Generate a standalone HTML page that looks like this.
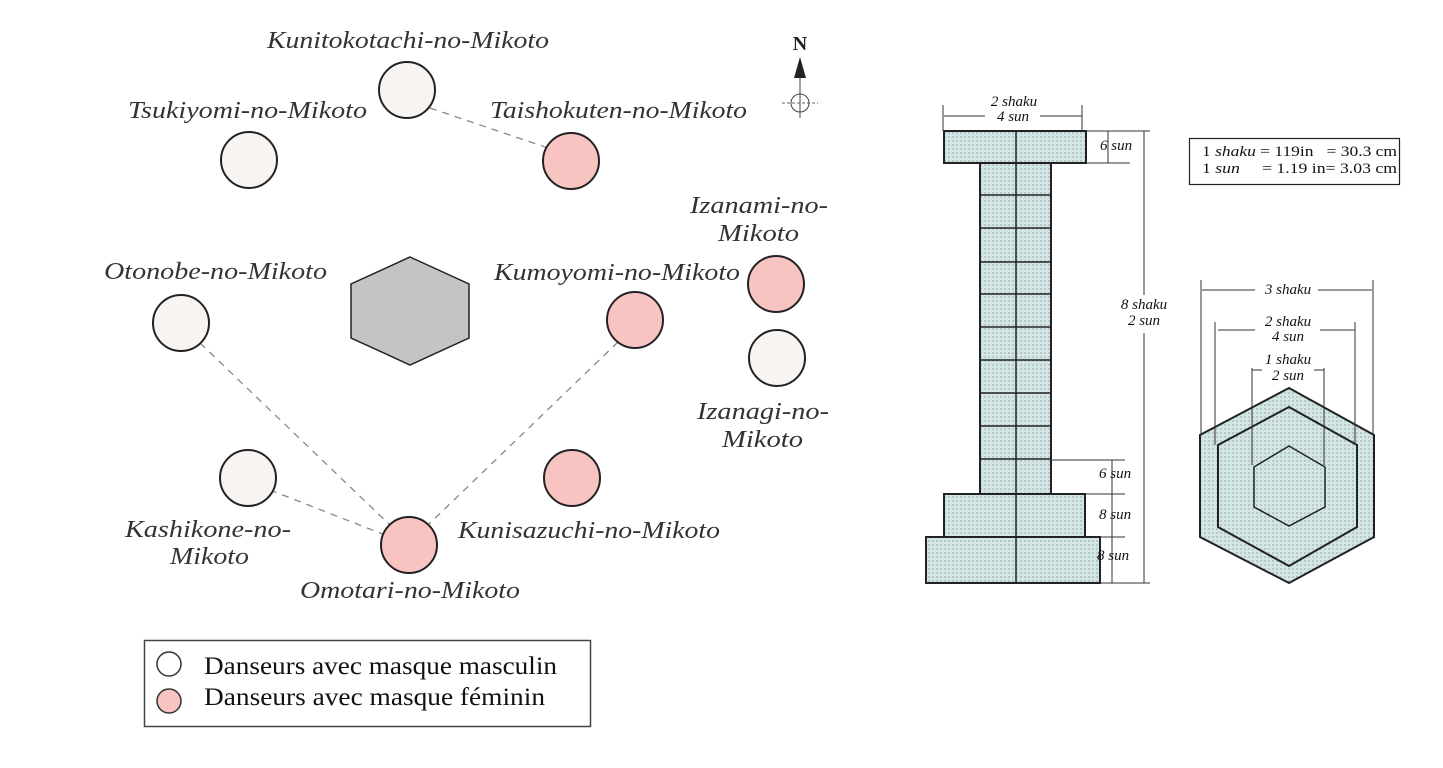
<!DOCTYPE html>
<html><head><meta charset="utf-8"><style>
html,body{margin:0;padding:0;background:#fff;width:1443px;height:768px;overflow:hidden}
svg{display:block}
.l{font-family:"Liberation Serif",serif;font-style:italic;font-size:24px;fill:#333}
.d{font-family:"Liberation Serif",serif;font-size:15px;fill:#111}
.di{font-family:"Liberation Serif",serif;font-style:italic;font-size:15px;fill:#111}
</style></head><body>
<svg width="1443" height="768" viewBox="0 0 1443 768" xmlns="http://www.w3.org/2000/svg">
<defs>
<pattern id="p" width="4" height="4" patternUnits="userSpaceOnUse">
<rect width="4" height="4" fill="#d2e6e6"/><rect width="2" height="2" fill="#b8c8c8"/>
</pattern>
</defs>
<g stroke="#888" stroke-width="1.3" stroke-dasharray="7,6" fill="none">
<line x1="430" y1="108" x2="548" y2="148"/>
<line x1="200" y1="343" x2="392" y2="527"/>
<line x1="270" y1="490" x2="385" y2="535"/>
<line x1="618" y1="342" x2="428" y2="525"/>
</g>
<g stroke="#222" stroke-width="2">
<circle cx="407" cy="90" r="28" fill="#f8f4f2"/>
<circle cx="249" cy="160" r="28" fill="#f8f4f2"/>
<circle cx="571" cy="161" r="28" fill="#f8c4c2"/>
<circle cx="776" cy="284" r="28" fill="#f8c4c2"/>
<circle cx="635" cy="320" r="28" fill="#f8c4c2"/>
<circle cx="181" cy="323" r="28" fill="#f8f4f2"/>
<circle cx="777" cy="358" r="28" fill="#f8f4f2"/>
<circle cx="248" cy="478" r="28" fill="#f8f4f2"/>
<circle cx="572" cy="478" r="28" fill="#f8c4c2"/>
<circle cx="409" cy="545" r="28" fill="#f8c4c2"/>
</g>
<polygon points="410,257 469,284 469,338 410,365 351,338 351,284" fill="#c4c4c4" stroke="#222" stroke-width="1.5"/>
<g class="l" lengthAdjust="spacingAndGlyphs">
<text x="267" y="48" textLength="282" lengthAdjust="spacingAndGlyphs">Kunitokotachi-no-Mikoto</text>
<text x="128" y="118" textLength="239" lengthAdjust="spacingAndGlyphs">Tsukiyomi-no-Mikoto</text>
<text x="490" y="118" textLength="257" lengthAdjust="spacingAndGlyphs">Taishokuten-no-Mikoto</text>
<text x="690" y="213" textLength="138" lengthAdjust="spacingAndGlyphs">Izanami-no-</text>
<text x="718" y="241" textLength="81" lengthAdjust="spacingAndGlyphs">Mikoto</text>
<text x="104" y="279" textLength="223" lengthAdjust="spacingAndGlyphs">Otonobe-no-Mikoto</text>
<text x="494" y="280" textLength="246" lengthAdjust="spacingAndGlyphs">Kumoyomi-no-Mikoto</text>
<text x="697" y="419" textLength="132" lengthAdjust="spacingAndGlyphs">Izanagi-no-</text>
<text x="722" y="447" textLength="81" lengthAdjust="spacingAndGlyphs">Mikoto</text>
<text x="125" y="537" textLength="166" lengthAdjust="spacingAndGlyphs">Kashikone-no-</text>
<text x="170" y="564" textLength="79" lengthAdjust="spacingAndGlyphs">Mikoto</text>
<text x="458" y="538" textLength="262" lengthAdjust="spacingAndGlyphs">Kunisazuchi-no-Mikoto</text>
<text x="300" y="598" textLength="220" lengthAdjust="spacingAndGlyphs">Omotari-no-Mikoto</text>
</g>
<text x="800" y="50" text-anchor="middle" font-family="Liberation Serif,serif" font-weight="bold" font-size="20" fill="#222">N</text>
<polygon points="800,57 794,78 806,78" fill="#222"/>
<line x1="800" y1="78" x2="800" y2="118" stroke="#444" stroke-width="1"/>
<line x1="782" y1="103" x2="818" y2="103" stroke="#666" stroke-width="1" stroke-dasharray="3,2"/>
<circle cx="800" cy="103" r="9" fill="none" stroke="#444" stroke-width="1"/>
<rect x="144.5" y="640.5" width="446" height="86" fill="#fff" stroke="#444" stroke-width="1.5"/>
<circle cx="169" cy="664" r="12" fill="#fff" stroke="#333" stroke-width="1.5"/>
<circle cx="169" cy="701" r="12" fill="#f8c4c2" stroke="#333" stroke-width="1.5"/>
<text x="204" y="674" font-family="Liberation Serif,serif" font-size="25" fill="#111" textLength="353" lengthAdjust="spacingAndGlyphs">Danseurs avec masque masculin</text>
<text x="204" y="705" font-family="Liberation Serif,serif" font-size="25" fill="#111" textLength="341" lengthAdjust="spacingAndGlyphs">Danseurs avec masque féminin</text>

<g stroke="#222" stroke-width="2" fill="url(#p)">
<rect x="944" y="131" width="142" height="32"/>
<rect x="980" y="163" width="71" height="331"/>
<rect x="944" y="494" width="141" height="43"/>
<rect x="926" y="537" width="174" height="46"/>
</g>
<g stroke="#222" stroke-width="1.5">
<line x1="1016" y1="131" x2="1016" y2="583"/>
<line x1="980" y1="195" x2="1051" y2="195"/>
<line x1="980" y1="228" x2="1051" y2="228"/>
<line x1="980" y1="262" x2="1051" y2="262"/>
<line x1="980" y1="294" x2="1051" y2="294"/>
<line x1="980" y1="327" x2="1051" y2="327"/>
<line x1="980" y1="360" x2="1051" y2="360"/>
<line x1="980" y1="393" x2="1051" y2="393"/>
<line x1="980" y1="426" x2="1051" y2="426"/>
<line x1="980" y1="459" x2="1051" y2="459"/>
</g>
<g stroke="#333" stroke-width="1" fill="none">
<line x1="943" y1="105" x2="943" y2="131"/><line x1="1082" y1="105" x2="1082" y2="131"/>
<line x1="944" y1="116" x2="985" y2="116"/><line x1="1040" y1="116" x2="1082" y2="116"/>
<line x1="1086" y1="131" x2="1150" y2="131"/><line x1="1086" y1="163" x2="1130" y2="163"/>
<line x1="1108" y1="131" x2="1108" y2="163"/>
<line x1="1144" y1="131" x2="1144" y2="295"/><line x1="1144" y1="333" x2="1144" y2="583"/>
<line x1="1051" y1="460" x2="1125" y2="460"/>
<line x1="1112" y1="460" x2="1112" y2="583"/>
<line x1="1085" y1="494" x2="1125" y2="494"/>
<line x1="1100" y1="537" x2="1125" y2="537"/>
<line x1="1100" y1="583" x2="1150" y2="583"/>
</g>
<text x="1014" y="106" text-anchor="middle" class="di">2 shaku</text>
<text x="1013" y="121" text-anchor="middle" class="di">4 sun</text>
<text x="1100" y="150" class="di">6 sun</text>
<text x="1144" y="309" text-anchor="middle" class="di">8 shaku</text>
<text x="1144" y="325" text-anchor="middle" class="di">2 sun</text>
<text x="1099" y="478" class="di">6 sun</text>
<text x="1099" y="519" class="di">8 sun</text>
<text x="1097" y="560" class="di">8 sun</text>
<rect x="1189.5" y="138.5" width="210" height="46" fill="#fff" stroke="#222" stroke-width="1.2"/>
<text x="1202" y="156" class="d" textLength="195" lengthAdjust="spacingAndGlyphs">1 <tspan font-style="italic">shaku</tspan> = 119in &#160;&#160;= 30.3 cm</text>
<text x="1202" y="173" class="d" textLength="195" lengthAdjust="spacingAndGlyphs">1 <tspan font-style="italic">sun</tspan> &#160;&#160;&#160;&#160;= 1.19 in= 3.03 cm</text>
<polygon points="1289,388 1374,435 1374,537 1289,583 1200,537 1200,435" fill="url(#p)" stroke="#222" stroke-width="2"/>
<polygon points="1289,407 1357,445 1357,527 1289,566 1218,527 1218,445" fill="none" stroke="#222" stroke-width="2"/>
<polygon points="1289,446 1325,467 1325,507 1289,526 1254,507 1254,467" fill="none" stroke="#222" stroke-width="1.5"/>
<g stroke="#333" stroke-width="1" fill="none">
<line x1="1201" y1="280" x2="1201" y2="435"/><line x1="1373" y1="280" x2="1373" y2="435"/>
<line x1="1202" y1="290" x2="1255" y2="290"/><line x1="1318" y1="290" x2="1372" y2="290"/>
<line x1="1215" y1="322" x2="1215" y2="445"/><line x1="1355" y1="322" x2="1355" y2="445"/>
<line x1="1218" y1="330" x2="1255" y2="330"/><line x1="1320" y1="330" x2="1355" y2="330"/>
<line x1="1252" y1="368" x2="1252" y2="465"/><line x1="1324" y1="368" x2="1324" y2="465"/>
<line x1="1252" y1="370" x2="1262" y2="370"/><line x1="1314" y1="370" x2="1324" y2="370"/>
</g>
<text x="1288" y="294" text-anchor="middle" class="di">3 shaku</text>
<text x="1288" y="326" text-anchor="middle" class="di">2 shaku</text>
<text x="1288" y="341" text-anchor="middle" class="di">4 sun</text>
<text x="1288" y="364" text-anchor="middle" class="di">1 shaku</text>
<text x="1288" y="380" text-anchor="middle" class="di">2 sun</text>
</svg>
</body></html>
